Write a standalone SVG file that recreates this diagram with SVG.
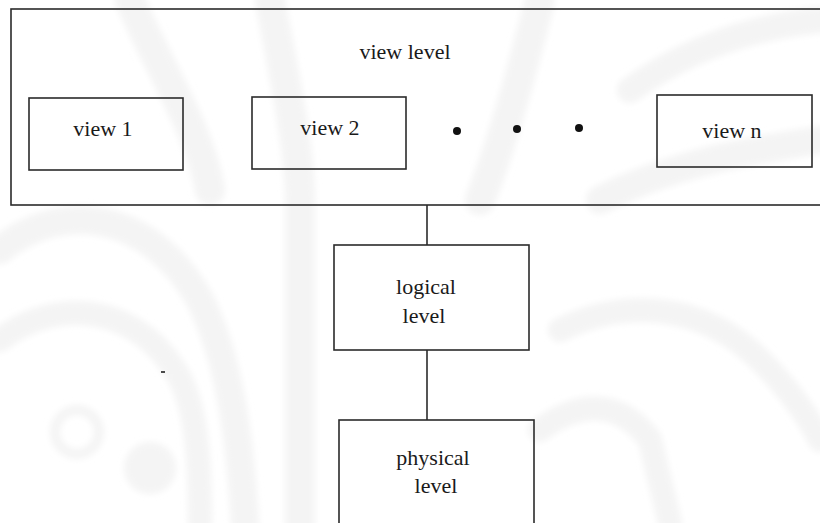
<svg xmlns="http://www.w3.org/2000/svg" width="820" height="523" viewBox="0 0 820 523">
  <defs>
    <filter id="soft" x="-10%" y="-10%" width="120%" height="120%">
      <feGaussianBlur stdDeviation="3"/>
    </filter>
  </defs>
  <style>
    .box { fill: none; stroke: #2b2b2b; stroke-width: 1.6; }
    .wire { fill: none; stroke: #2b2b2b; stroke-width: 1.6; }
    .lbl { font-family: "Liberation Serif", "Times New Roman", serif; font-size: 22px; fill: #1a1a1a; text-anchor: middle; }
    .wm { fill: none; stroke: #f4f4f4; stroke-linecap: round; }
    .wmf { fill: #f4f4f4; }
  </style>

  <rect x="0" y="0" width="820" height="523" fill="#ffffff"/>

  <!-- faint background emblem -->
  <g id="watermark" filter="url(#soft)">
    <path class="wm" stroke-width="28" d="M 0 250 C 60 200, 150 210, 200 300 C 230 360, 240 440, 245 523"/>
    <path class="wm" stroke-width="24" d="M 0 340 C 50 300, 130 300, 175 370 C 195 400, 200 450, 200 523"/>
    <path class="wm" stroke-width="30" d="M 130 0 C 160 70, 200 130, 210 190"/>
    <path class="wm" stroke-width="30" d="M 270 0 C 285 80, 300 150, 300 200 L 300 523"/>
    <path class="wm" stroke-width="30" d="M 540 0 C 520 80, 500 150, 480 200"/>
    <path class="wm" stroke-width="28" d="M 600 200 C 680 160, 760 150, 820 140"/>
    <path class="wm" stroke-width="26" d="M 630 90 C 700 40, 770 25, 820 20"/>
    <path class="wm" stroke-width="24" d="M 560 330 C 620 300, 700 300, 760 360 C 790 390, 810 420, 820 440"/>
    <path class="wm" stroke-width="24" d="M 540 430 C 580 400, 620 400, 650 440 L 670 523"/>
    <circle class="wm" stroke-width="10" cx="77" cy="432" r="22"/>
    <circle class="wmf" cx="150" cy="468" r="26"/>
  </g>

  <!-- connectors between levels -->
  <g id="connectors">
    <line class="wire" x1="427" y1="205" x2="427" y2="245"/>
    <line class="wire" x1="427" y1="350" x2="427" y2="420"/>
  </g>

  <g id="view-level">
    <rect class="box" x="11" y="9" width="820" height="196"/>
    <text class="lbl" x="405" y="59">view level</text>
  </g>

  <g id="view-1">
    <rect class="box" x="29" y="98" width="154" height="72"/>
    <text class="lbl" x="103" y="136">view 1</text>
  </g>

  <g id="view-2">
    <rect class="box" x="252" y="97" width="154" height="72"/>
    <text class="lbl" x="330" y="135">view 2</text>
  </g>

  <g id="ellipsis">
    <circle cx="457" cy="131" r="4" fill="#111"/>
    <circle cx="517" cy="129" r="4" fill="#111"/>
    <circle cx="579" cy="128" r="4" fill="#111"/>
  </g>

  <g id="view-n">
    <rect class="box" x="657" y="95" width="155" height="72"/>
    <text class="lbl" x="732" y="138">view n</text>
  </g>

  <g id="logical-level">
    <rect class="box" x="334" y="245" width="195" height="105"/>
    <text class="lbl" x="426" y="294">logical</text>
    <text class="lbl" x="424" y="323">level</text>
  </g>

  <g id="physical-level">
    <rect class="box" x="339" y="420" width="195" height="120"/>
    <text class="lbl" x="433" y="465">physical</text>
    <text class="lbl" x="436" y="493">level</text>
  </g>

  <line x1="161" y1="372" x2="165" y2="372" stroke="#111" stroke-width="1.5"/>
</svg>
